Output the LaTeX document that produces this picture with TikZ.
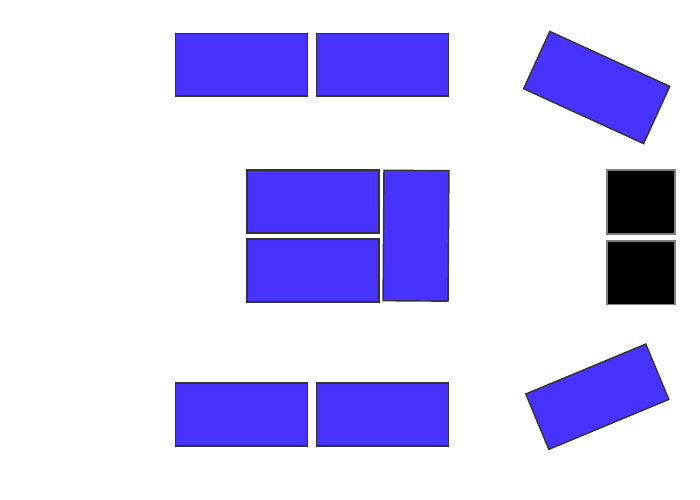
\documentclass[tikz,border=0pt]{standalone}
\usepackage{tikz}

\definecolor{tileblue}{RGB}{72,50,255}
\tikzset{
  tile/.style={draw=black!80, line width=0.8pt, fill=tileblue, inner sep=0pt,
    minimum width=2.64cm, minimum height=1.26cm},
  darksq/.style={draw=black!50, line width=0.8pt, fill=black, inner sep=0pt,
    minimum width=1.36cm, minimum height=1.28cm}
}

\begin{document}
\begin{tikzpicture}[x=0.02cm, y=-0.02cm]
      \useasboundingbox (0, 0) rectangle (700, 500);
      % Fila superior
      \node[tile] (t1) at (241.5, 64.7) {};
      \node[tile] (t2) at (382.3, 64.7) {};
      \node[tile, rotate=-24.6] (t3) at (596.7, 87.5) {};
      % Fila del medio
      \node[tile] (m1) at (313, 201.5) {};
      \node[tile] (m2) at (313, 270.5) {};
      \node[tile, minimum width=1.3cm, minimum height=2.61cm, rotate=-0.4] (m3) at (416, 235.7) {};
      \node[darksq] (s1) at (640.8, 202) {};
      \node[darksq] (s2) at (640.8, 272.8) {};
      % Fila inferior
      \node[tile] (b1) at (241.5, 414.5) {};
      \node[tile] (b2) at (382.3, 414.5) {};
      \node[tile, minimum width=2.6cm, minimum height=1.2cm, rotate=22.6] (b3) at (597.3, 396.7) {};
    \end{tikzpicture}
\end{document}
